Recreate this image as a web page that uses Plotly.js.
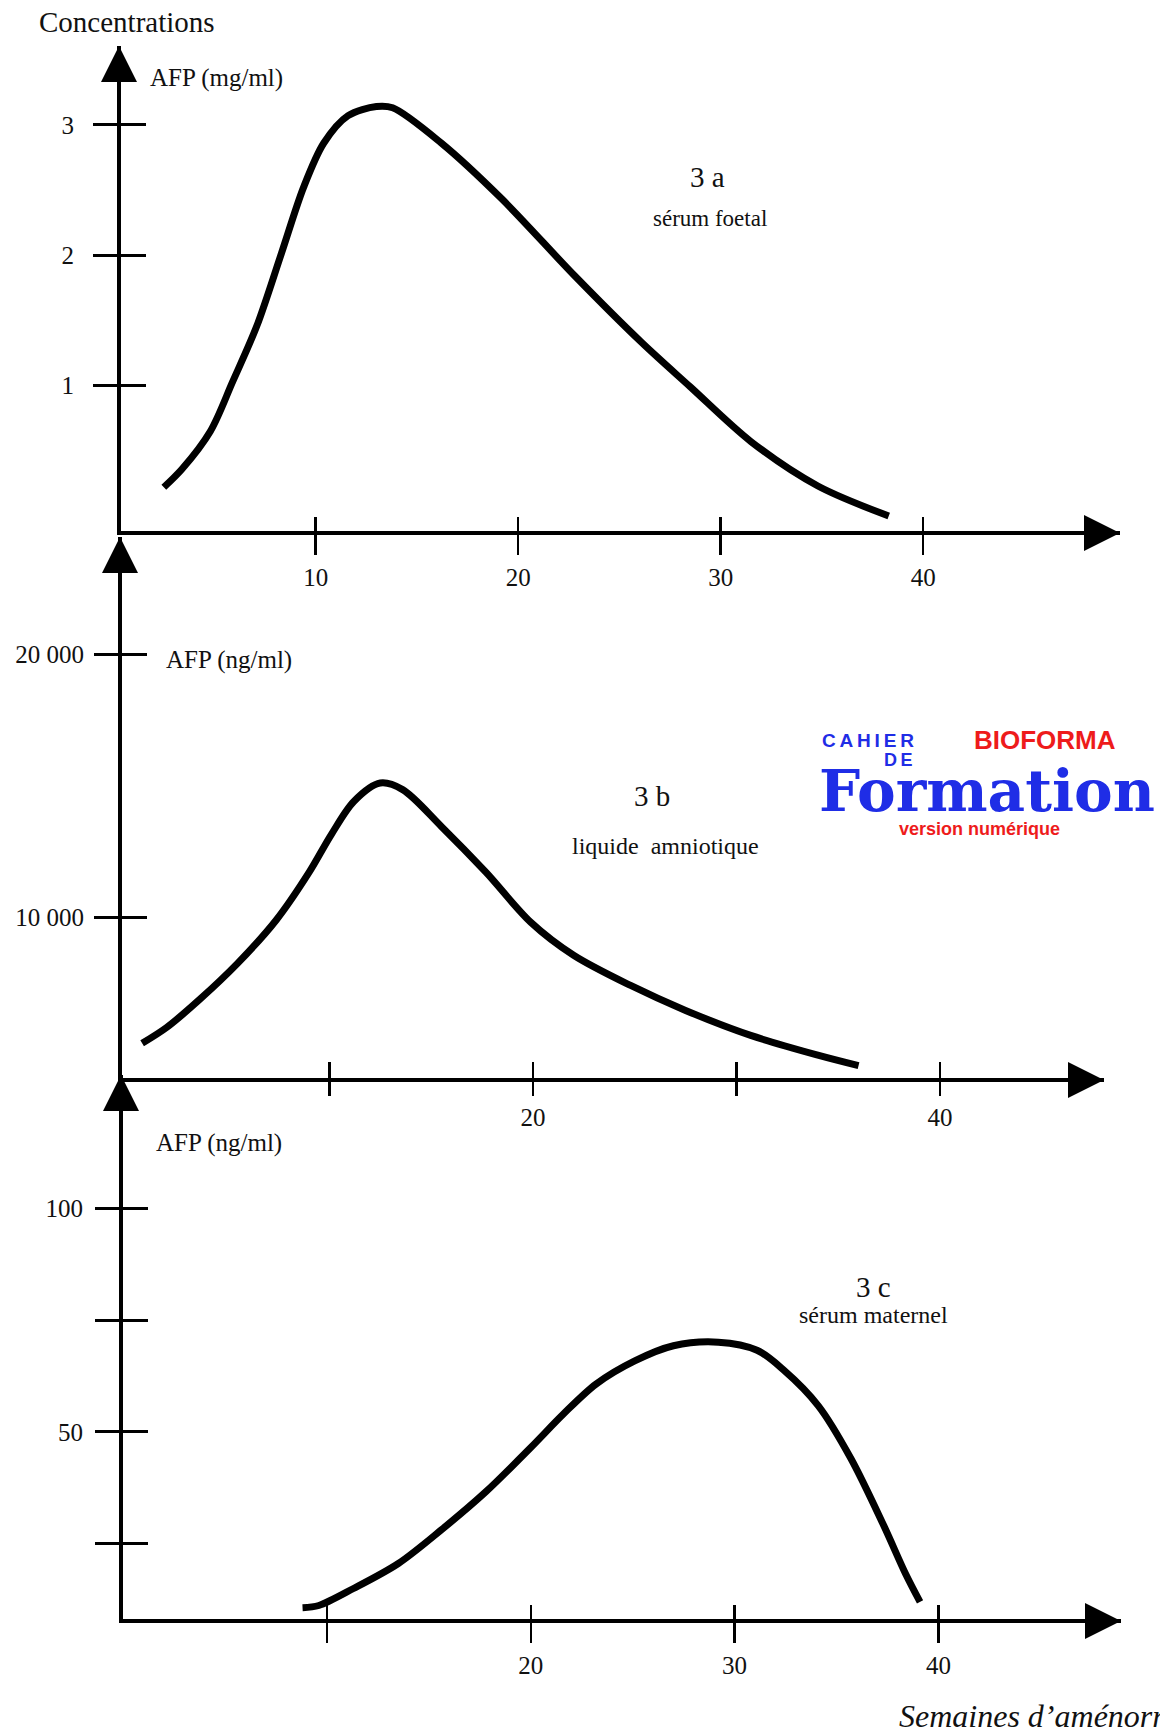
<!DOCTYPE html>
<html>
<head>
<meta charset="utf-8">
<script src="https://cdn.plot.ly/plotly-3.0.1.min.js"></script>
<style>
  html, body { margin: 0; padding: 0; background: #ffffff; }
  #chart { width: 1160px; height: 1733px; }
</style>
</head>
<body>
<div id="chart"></div>
<script>
// AFP concentration over gestation (semaines d'aménorrhée)

// 3 a - sérum foetal (mg/ml)
const weeksFoetal = [2.5, 3.4, 4.8, 5.9, 7.1, 8.3, 9.4, 10.4, 11.6, 13.0, 13.8, 16.2, 19.2, 22.8, 26.1, 28.5, 31.5, 34.8, 38.3];
const afpFoetal   = [0.22, 0.36, 0.65, 1.03, 1.46, 2.01, 2.52, 2.86, 3.07, 3.14, 3.13, 2.86, 2.43, 1.84, 1.33, 0.99, 0.57, 0.23, 0.0];

// 3 b - liquide amniotique (ng/ml)
const weeksAmnio = [0.8, 2.0, 3.6, 5.5, 7.4, 9.0, 10.1, 11.2, 12.5, 13.6, 15.5, 17.7, 19.9, 22.0, 24.8, 27.5, 30.7, 34.0, 36.0];
const afpAmnio   = [5200, 5800, 6850, 8250, 9900, 11700, 13150, 14400, 15100, 14850, 13450, 11700, 9800, 8550, 7400, 6450, 5500, 4750, 4350];

// 3 c - sérum maternel (ng/ml)
const weeksMaternel = [8.8, 9.6, 11.3, 13.5, 15.6, 17.8, 20.0, 21.6, 23.2, 25.1, 27.0, 29.2, 31.1, 32.4, 34.1, 35.7, 37.3, 38.4, 39.1];
const afpMaternel   = [10.6, 11.1, 14.9, 20.5, 28.0, 36.6, 46.5, 54.0, 60.7, 65.9, 69.3, 70.1, 68.3, 63.9, 55.9, 44.1, 29.2, 18.1, 11.9];

// tick marks and their labels
const xTickValsA = [10, 20, 30, 40];
const xTickTextA = ['10', '20', '30', '40'];
const yTickValsA = [1, 2, 3];
const yTickTextA = ['1', '2', '3'];

const xTickValsB = [10, 20, 30, 40];
const xTickTextB = ['', '20', '', '40'];
const yTickValsB = [10000, 20000];
const yTickTextB = ['10 000', '20 000'];

const xTickValsC = [10, 20, 30, 40];
const xTickTextC = ['', '20', '30', '40'];
const yTickValsC = [25, 50, 75, 100];
const yTickTextC = ['', '50', '', '100'];

// ---- page geometry (pixels) ----
const W = 1160, H = 1733;
const fx = p => p / W;          // pixel column -> paper x
const fy = p => 1 - p / H;      // pixel row    -> paper y

const SERIF = '"Liberation Serif", "Times New Roman", serif';
const SANS = '"Liberation Sans", Arial, sans-serif';
const INK = '#111111';
const BLUE = '#1f2de6';
const RED = '#ee1b1b';

// panel frames: columns/rows of each pair of axes, value ranges, tick geometry
const panels = {
  a: { left: 121, right: 1120, top: 46,   bottom: 531,  xr: [0.385, 49.72], yr: [-0.115, 3.604],
       xOut: 20, xIn: 14, xStand: 1, yStand: 14 },
  b: { left: 122, right: 1104, top: 537,  bottom: 1078, xr: [-0.19, 48.06], yr: [3880, 24458],
       xOut: 14, xIn: 16, xStand: 0, yStand: 5 },
  c: { left: 123, right: 1121, top: 1075, bottom: 1619, xr: [-0.01, 48.96], yr: [8.07, 129.96],
       xOut: 20, xIn: 14, xStand: 1, yStand: 7 }
};

function xAxisMain(p, yid, vals, text) {
  return {
    domain: [fx(p.left), fx(p.right)], range: p.xr, anchor: yid,
    showline: true, linecolor: '#000', linewidth: 4,
    ticks: 'outside', ticklen: p.xOut, tickwidth: 2.5, tickcolor: '#000',
    tickmode: 'array', tickvals: vals, ticktext: text,
    tickfont: { family: SERIF, size: 25, color: INK }, ticklabelstandoff: p.xStand,
    showgrid: false, zeroline: false, fixedrange: true
  };
}
function xAxisTwin(p, base, yid, vals) {
  return {
    overlaying: base, anchor: yid, range: p.xr, side: 'bottom',
    showline: false, ticks: 'inside', ticklen: p.xIn, tickwidth: 2.5, tickcolor: '#000',
    tickmode: 'array', tickvals: vals, showticklabels: false,
    showgrid: false, zeroline: false, fixedrange: true
  };
}
function yAxisMain(p, xid, vals, text) {
  return {
    domain: [fy(p.bottom), fy(p.top)], range: p.yr, anchor: xid,
    showline: true, linecolor: '#000', linewidth: 4,
    ticks: 'outside', ticklen: 24, tickwidth: 3, tickcolor: '#000',
    tickmode: 'array', tickvals: vals, ticktext: text,
    tickfont: { family: SERIF, size: 25, color: INK }, ticklabelstandoff: p.yStand,
    showgrid: false, zeroline: false, fixedrange: true
  };
}
function yAxisTwin(p, base, xid, vals) {
  return {
    overlaying: base, anchor: xid, range: p.yr, side: 'left',
    showline: false, ticks: 'inside', ticklen: 25, tickwidth: 3, tickcolor: '#000',
    tickmode: 'array', tickvals: vals, showticklabels: false,
    showgrid: false, zeroline: false, fixedrange: true
  };
}

const curveLine = { color: '#000', width: 7, shape: 'spline', smoothing: 0.9 };

const traces = [
  { x: weeksFoetal, y: afpFoetal, xaxis: 'x', yaxis: 'y', mode: 'lines', line: curveLine, hoverinfo: 'skip' },
  { x: weeksAmnio, y: afpAmnio, xaxis: 'x2', yaxis: 'y2', mode: 'lines', line: curveLine, hoverinfo: 'skip' },
  { x: weeksMaternel, y: afpMaternel, xaxis: 'x3', yaxis: 'y3', mode: 'lines', line: curveLine, hoverinfo: 'skip' },
  // empty traces that bring up the inner tick marks
  { x: [], y: [], xaxis: 'x4', yaxis: 'y4', mode: 'lines', hoverinfo: 'skip' },
  { x: [], y: [], xaxis: 'x5', yaxis: 'y5', mode: 'lines', hoverinfo: 'skip' },
  { x: [], y: [], xaxis: 'x6', yaxis: 'y6', mode: 'lines', hoverinfo: 'skip' }
];

// arrow heads at the ends of every axis
function arrowX(p) {
  return { xref: 'paper', yref: 'paper', x: fx(p.right), y: fy(p.bottom), yshift: -2,
    ax: -40, ay: 0, text: '', showarrow: true, arrowhead: 2, arrowsize: 1.8,
    arrowwidth: 4, arrowcolor: '#000', standoff: 0 };
}
function arrowY(p) {
  return { xref: 'paper', yref: 'paper', x: fx(p.left), y: fy(p.top), xshift: -2,
    ax: 0, ay: 40, text: '', showarrow: true, arrowhead: 2, arrowsize: 1.8,
    arrowwidth: 4, arrowcolor: '#000', standoff: 0 };
}
function label(text, px, py, size, opts) {
  return Object.assign({ xref: 'paper', yref: 'paper', x: fx(px), y: fy(py), text: text,
    showarrow: false, xanchor: 'center', yanchor: 'middle',
    font: { family: SERIF, size: size, color: INK } }, opts || {});
}

const annotations = [
  arrowX(panels.a), arrowY(panels.a),
  arrowX(panels.b), arrowY(panels.b),
  arrowX(panels.c), arrowY(panels.c),

  label('Concentrations', 127, 22, 29),
  label('AFP (mg/ml)', 216, 78, 25),
  label('3 a', 707, 177, 29),
  label('sérum foetal', 710, 219, 23),

  label('AFP (ng/ml)', 229, 660, 25),
  label('3 b', 652, 796, 29),
  label('liquide  amniotique', 665, 846, 24),

  label('AFP (ng/ml)', 219, 1143, 25),
  label('3 c', 873, 1287, 29),
  label('sérum maternel', 873, 1315, 24),

  label('Semaines d’aménorrhée', 897, 1716, 32, { xanchor: 'left', font: { family: SERIF, size: 32, color: INK, style: 'italic' } }),

  // publisher mark
  label('<b>C\u2009A\u2009H\u2009I\u2009E\u2009R</b>', 868, 740, 19, { font: { family: SANS, size: 19, color: BLUE } }),
  label('<b>D\u2009E</b>', 898, 760, 18, { font: { family: SANS, size: 18, color: BLUE } }),
  label('<b>Formation</b>', 987, 791, 58, { font: { family: '"DejaVu Serif", serif', size: 58, color: BLUE } }),
  label('<b>BIOFORMA</b>', 1045, 740, 26, { font: { family: SANS, size: 26, color: RED } }),
  label('<b>version numérique</b>', 979, 829, 18, { font: { family: SANS, size: 18, color: RED } })
];

const layout = {
  width: W, height: H,
  margin: { l: 0, r: 0, t: 0, b: 0, pad: 0 },
  paper_bgcolor: '#ffffff', plot_bgcolor: 'rgba(0,0,0,0)',
  showlegend: false,
  xaxis:  xAxisMain(panels.a, 'y',  xTickValsA, xTickTextA),
  yaxis:  yAxisMain(panels.a, 'x',  yTickValsA, yTickTextA),
  xaxis2: xAxisMain(panels.b, 'y2', xTickValsB, xTickTextB),
  yaxis2: yAxisMain(panels.b, 'x2', yTickValsB, yTickTextB),
  xaxis3: xAxisMain(panels.c, 'y3', xTickValsC, xTickTextC),
  yaxis3: yAxisMain(panels.c, 'x3', yTickValsC, yTickTextC),
  xaxis4: xAxisTwin(panels.a, 'x',  'y4', xTickValsA),
  yaxis4: yAxisTwin(panels.a, 'y',  'x4', yTickValsA),
  xaxis5: xAxisTwin(panels.b, 'x2', 'y5', xTickValsB),
  yaxis5: yAxisTwin(panels.b, 'y2', 'x5', yTickValsB),
  xaxis6: xAxisTwin(panels.c, 'x3', 'y6', xTickValsC),
  yaxis6: yAxisTwin(panels.c, 'y3', 'x6', yTickValsC),
  annotations: annotations
};

Plotly.newPlot('chart', traces, layout, { staticPlot: true, displayModeBar: false });
</script>
</body>
</html>
